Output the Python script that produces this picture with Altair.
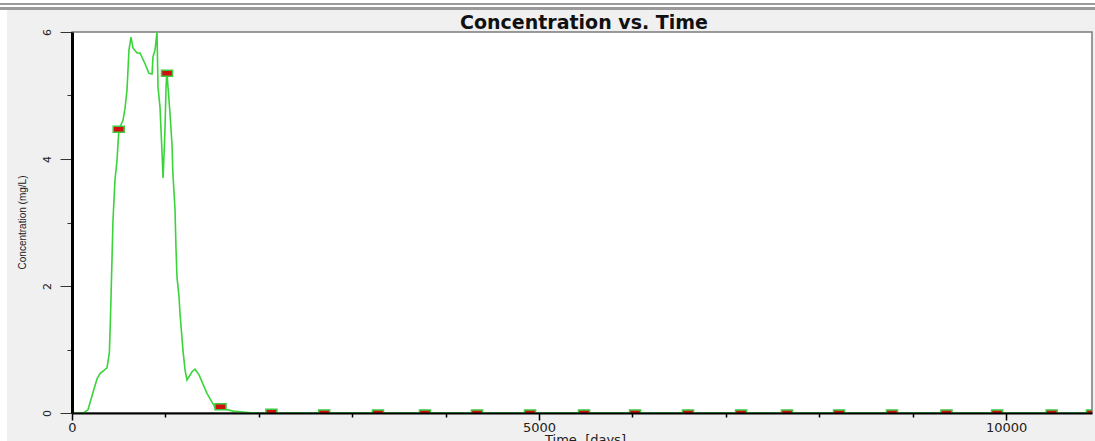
import altair as alt
import pandas as pd

# Simulated concentration breakthrough curve (time in days, concentration in mg/L)
time_days = [0, 120, 171, 230, 268, 300, 375, 400, 407, 417, 439, 460, 482, 495,
             503, 546, 568, 589, 610, 632, 653, 696, 728, 782, 824, 857, 867, 889,
             910, 921, 942, 964, 975, 986, 995, 1006, 1012, 1017, 1028, 1049, 1071,
             1080, 1103, 1113, 1124, 1146, 1156, 1188, 1210, 1231, 1285, 1317, 1360,
             1445, 1531, 1590, 1724, 1938, 10920]
conc_mgl = [0.0, 0.0, 0.05, 0.35, 0.54, 0.62, 0.71, 0.95, 1.26, 1.78, 3.04, 3.67,
            3.98, 4.3, 4.47, 4.61, 4.8, 5.09, 5.72, 5.92, 5.75, 5.67, 5.67, 5.5,
            5.35, 5.34, 5.61, 5.72, 6.0, 5.13, 4.82, 4.09, 3.7, 4.09, 4.45, 5.09,
            5.27, 5.35, 5.13, 4.72, 4.22, 3.78, 3.2, 2.61, 2.14, 1.83, 1.57, 0.99,
            0.68, 0.52, 0.65, 0.69, 0.6, 0.31, 0.09, 0.08, 0.03, 0.0, 0.0]

# Observation points
obs_time = [500, 1017, 1590, 2135, 2700, 3276, 3779, 4336, 4904, 5482, 6028,
            6595, 7163, 7655, 8212, 8779, 9362, 9904, 10488, 10920]
obs_conc = [4.47, 5.35, 0.1, 0.01, 0, 0, 0, 0, 0, 0, 0, 0, 0, 0, 0, 0, 0, 0, 0, 0]

x_ticks = list(range(0, 11000, 1000))
y_ticks = [i * 0.5 for i in range(13)]

chart_title = "Concentration vs. Time"
x_title = "Time\u00a0 [days]"
y_title = "Concentration (mg/L)"

curve = pd.DataFrame({"t": time_days, "c": conc_mgl})
obs = pd.DataFrame({"t": obs_time, "c": obs_conc})

x_scale = alt.Scale(domain=[0, 10920], nice=False, zero=False)
y_scale = alt.Scale(domain=[0, 6], nice=False)

x_axis = alt.Axis(
    values=x_ticks,
    labelExpr="datum.value % 5000 === 0 ? datum.label : ''",
    format="d",
    tickSize={"condition": {"test": "datum.value % 5000 === 0", "value": 7}, "value": 4},
    tickColor="#000000",
    tickWidth=1.5,
    domainColor="#000000",
    domainWidth=2,
    labelFont="DejaVu Sans",
    labelFontSize=13,
    labelColor="#222222",
    labelPadding=1,
    labelFlush=False,
    grid=False,
    zindex=1,
    title=x_title,
    titleFont="DejaVu Sans",
    titleFontSize=13,
    titleFontWeight="normal",
    titleColor="#222222",
    titleBaseline="top",
    titleY=20,
    titleX=513,
)

y_axis = alt.Axis(
    values=y_ticks,
    labelExpr="datum.value % 2 === 0 ? datum.label : ''",
    format="d",
    tickSize={"condition": {"test": "datum.value % 2 === 0", "value": 12}, "value": 5},
    tickColor="#333333",
    tickWidth=1,
    domainColor="#000000",
    domainWidth=3,
    labelAngle=-90,
    labelAlign="center",
    labelBaseline="bottom",
    labelFont="DejaVu Sans",
    labelFontSize=11,
    labelColor="#222222",
    labelPadding=8,
    labelFlush=False,
    grid=False,
    zindex=1,
    title=y_title,
    titleFont="Liberation Sans",
    titleFontSize=10,
    titleFontWeight="normal",
    titleColor="#222222",
    titleAngle=-90,
    titleAlign="center",
    titleBaseline="middle",
    titleX=-50,
    titleY=190,
)

line = alt.Chart(curve).mark_line(color="#3ad43a", strokeWidth=1.6, clip=True).encode(
    x=alt.X("t:Q", scale=x_scale, axis=x_axis),
    y=alt.Y("c:Q", scale=y_scale, axis=y_axis),
)

markers = alt.Chart(obs).mark_point(
    shape="M-1,-0.55L1,-0.55L1,0.55L-1,0.55Z",
    size=121,
    filled=True,
    fill="#d01010",
    stroke="#40c840",
    strokeWidth=1.5,
    opacity=1,
    clip=True,
).encode(
    x=alt.X("t:Q", scale=x_scale),
    y=alt.Y("c:Q", scale=y_scale),
)

one_row = pd.DataFrame({"k": [0]})

# Window frame decorations above and left of the plot
frame_top = alt.Chart(one_row).mark_rect(color="#ffffff").encode(
    x=alt.value(-72), x2=alt.value(1023), y=alt.value(-32), y2=alt.value(-22)
)
frame_left = alt.Chart(one_row).mark_rect(color="#ffffff").encode(
    x=alt.value(-72), x2=alt.value(-65), y=alt.value(-22), y2=alt.value(409)
)
rule_a = alt.Chart(one_row).mark_rule(color="#9a9a9a", strokeWidth=2).encode(
    x=alt.value(-72), x2=alt.value(1023), y=alt.value(-28)
)
rule_b = alt.Chart(one_row).mark_rule(color="#9a9a9a", strokeWidth=3).encode(
    x=alt.value(-72), x2=alt.value(1023), y=alt.value(-23.5)
)

# Chart heading, drawn as a text mark centred over the plot
heading = alt.Chart(pd.DataFrame({"label": [chart_title]})).mark_text(
    font="DejaVu Sans",
    fontSize=19,
    fontWeight="bold",
    color="#111111",
    align="center",
    baseline="alphabetic",
).encode(
    text="label:N",
    x=alt.value(512),
    y=alt.value(-3),
)

chart = (
    alt.layer(frame_top, frame_left, rule_a, rule_b, line, markers, heading)
    .properties(
        width=1020,
        height=381,
        autosize=alt.AutoSizeParams(type="none"),
        padding={"left": 72, "top": 32, "right": 3, "bottom": 28},
        background="#f0f0f0",
    )
    .configure_view(fill="#ffffff", stroke="#7a7a7a", strokeWidth=1.5)
)

chart.save("out.html", embed_options={"renderer": "svg", "actions": False})
